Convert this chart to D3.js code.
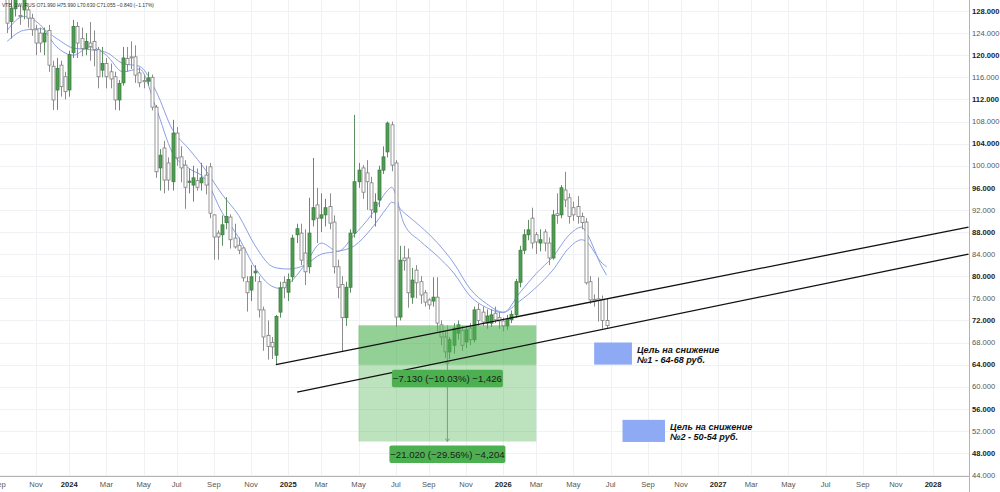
<!DOCTYPE html>
<html><head><meta charset="utf-8">
<script src="https://cdn.jsdelivr.net/npm/d3@7/dist/d3.min.js"></script>
<style>body{margin:0;background:#fff}svg{display:block}</style>
</head><body><svg id="c" width="1000" height="492"></svg>
<script>
// ---------- DATA ----------
const firstWeek = "2023-09-18"; // weekly candles, one per Monday
const open  = [130.5,126.1,128.4,127.2,128.2,128.2,126.7,124.6,124.0,122.4,124.5,118.0,113.7,118.2,116.1,113.7,120.5,125.2,123.0,121.2,122.2,122.5,121.0,117.3,118.5,117.0,116.1,111.9,115.0,119.4,119.7,119.7,116.8,115.4,115.3,116.0,110.6,99.6,103.2,100.5,97.1,105.9,101.6,100.1,97.0,96.5,97.3,96.9,98.3,99.8,91.1,87.8,87.5,89.7,90.7,86.9,85.6,85.1,79.0,77.5,80.6,79.0,73.9,69.3,68.0,65.7,73.5,78.9,77.1,79.9,87.5,87.8,84.2,81.7,90.2,92.9,90.5,91.1,92.6,89.8,81.7,78.5,72.5,78.0,87.8,97.1,99.6,98.7,96.9,91.6,93.8,99.2,102.5,107.4,100.5,72.6,83.3,83.3,76.2,81.1,79.0,77.0,75.7,75.5,76.2,71.2,69.0,66.3,67.5,69.7,70.2,68.1,70.6,68.5,74.0,73.5,71.5,71.5,73.3,72.5,71.9,71.0,72.1,73.0,78.9,84.7,87.5,90.5,87.5,86.0,88.0,86.0,83.3,91.3,91.1,95.6,94.2,92.4,92.6,90.8,89.8,79.0,75.8,75.9,75.8,71.99];
const high  = [131.5,130.5,132.0,129.0,131.0,128.8,127.5,125.5,125.0,125.0,125.5,119.0,119.5,119.0,117.0,120.8,126.4,126.0,125.0,124.0,126.0,124.5,121.5,121.5,119.5,118.5,117.0,115.5,121.5,121.5,122.5,121.8,117.8,116.5,117.0,116.5,111.0,103.0,104.5,101.5,108.3,107.0,103.5,101.0,99.5,100.0,99.5,100.5,100.0,100.5,91.2,88.3,91.0,94.3,91.2,89.5,87.0,85.2,80.0,82.0,82.0,80.0,74.5,72.0,69.0,73.0,79.0,80.0,80.5,87.5,89.5,89.5,88.5,94.2,101.4,96.0,95.0,94.0,95.0,91.0,83.0,80.0,79.0,88.5,109.2,100.5,100.1,101.0,98.0,95.0,100.0,103.5,108.0,108.0,101.0,85.5,85.5,85.0,81.5,82.0,80.0,77.5,76.0,79.8,79.8,72.0,70.0,69.0,71.5,72.0,71.0,71.0,71.5,74.5,75.0,74.5,74.0,74.0,74.5,73.5,72.5,73.0,73.8,79.5,85.5,88.5,90.2,92.4,88.0,88.5,88.5,87.0,92.0,95.0,96.5,98.9,95.0,93.5,94.5,91.5,90.5,80.0,76.7,79.8,76.5,75.99];
const low   = [124.0,123.0,127.0,125.5,126.5,125.0,123.5,120.0,120.5,120.0,117.0,110.1,110.1,112.5,112.0,112.5,119.5,119.5,119.8,120.0,119.0,118.0,114.0,116.0,114.0,114.0,110.1,110.0,114.5,117.0,117.5,115.0,114.2,114.0,114.5,110.0,97.8,95.5,95.0,95.5,95.5,100.0,97.0,92.2,95.0,93.5,95.5,95.5,94.8,90.5,83.0,83.0,85.5,88.5,85.0,85.0,84.0,79.0,73.6,75.5,79.0,72.5,66.5,64.9,65.0,64.0,72.5,76.0,75.5,79.0,86.0,82.0,78.4,80.5,89.0,86.0,88.0,89.0,88.5,80.5,76.0,66.3,71.0,77.0,87.0,96.0,94.0,92.0,90.5,89.0,92.5,98.5,101.5,99.0,70.8,72.0,81.0,74.3,75.0,76.0,75.0,74.5,74.0,74.5,70.0,67.5,65.2,65.0,66.0,68.5,66.5,67.0,67.5,68.0,71.0,71.0,70.5,70.8,71.5,70.5,70.0,70.3,71.5,72.5,78.0,84.0,86.5,85.0,84.0,84.5,84.5,82.0,83.0,89.5,90.5,92.5,89.5,90.0,89.5,88.5,78.5,75.0,74.5,71.8,70.5,70.63];
const close = [125.8,128.5,131.0,127.0,130.2,126.7,124.6,122.2,122.2,124.0,118.2,111.9,117.6,114.3,113.4,120.1,125.2,122.2,121.2,122.5,121.6,121.0,116.1,118.5,116.1,115.7,111.9,114.9,119.5,118.3,119.5,116.4,115.0,115.2,115.9,110.6,98.9,101.9,97.4,97.4,105.9,101.4,99.6,96.1,97.2,97.8,96.1,97.8,96.5,91.4,87.1,87.1,89.3,90.8,86.6,85.3,84.7,79.7,77.0,79.9,80.9,73.9,69.0,67.3,67.2,72.7,77.9,77.9,79.4,86.9,88.6,82.9,80.8,87.8,92.4,90.5,91.1,92.4,89.6,81.7,78.0,72.5,78.0,87.8,97.1,99.2,95.2,97.1,92.0,93.4,99.2,101.6,107.7,100.1,72.6,82.9,82.8,77.0,79.3,78.8,76.6,75.3,74.8,76.2,71.5,69.0,66.3,68.5,70.6,71.2,67.5,70.3,68.5,73.9,72.0,71.7,72.8,73.0,72.1,71.9,71.0,72.2,73.1,79.0,84.7,87.5,88.4,86.0,86.2,86.6,86.0,83.3,91.1,91.0,96.0,93.8,90.8,91.1,90.8,89.7,78.8,75.7,75.5,75.6,72.0,71.055];

// moving-average lines at these candle indices
const maIdx  = [0,4,8,12,16,20,24,28,32,36,40,44,48,52,56,60,64,66,68,72,76,80,84,88,92,93,96,100,104,108,112,116,120,124,128,132,136,139,140,144,145];
const maFast = [124.5,127.0,125.5,121.5,120.0,121.5,120.0,117.0,117.5,110.5,102.3,99.5,97.5,91.5,87.0,81.5,78.2,77.8,78.6,82.0,86.0,84.5,87.5,91.0,95.5,96.1,89.5,86.3,83.7,80.6,76.4,74.3,73.4,77.0,80.5,83.5,87.5,88.9,88.0,81.5,80.2];
const maSlow = [122.5,124.5,124.8,123.0,121.3,121.0,120.5,118.5,118.0,113.5,106.5,103.0,99.2,94.8,91.0,85.5,81.8,81.4,81.3,82.0,84.0,84.5,85.5,88.5,92.5,93.4,91.5,89.0,86.1,82.4,77.7,75.0,73.5,75.5,78.0,81.1,85.2,86.6,86.3,82.3,81.7];

const priceTicks = [44,48,52,56,60,64,68,72,76,80,84,88,92,96,100,104,108,112,116,120,124,128];
const monthNames = ["Jan","Feb","Mar","Apr","May","Jun","Jul","Aug","Sep","Oct","Nov","Dec"];

const trendLines = [
  {from:["2024-12-16",64.0], to:["2028-03-03",88.9]},
  {from:["2025-01-21",59.0], to:["2028-03-03",84.0]}
];
const measure = {start:"2025-05-05", end:"2026-03-02", top:71.1, levels:[63.97,50.08],
  labels:["\u22127.130 (\u221210.03%) \u22121,426","\u221221.020 (\u221229.56%) \u22124,204"]};
const targets = [
  {start:"2026-06-08", end:"2026-08-11", lo:64, hi:68, lines:["Цель на снижение","№1 - 64-68 руб."]},
  {start:"2026-07-26", end:"2026-10-06", lo:50, hi:54, lines:["Цель на снижение","№2 - 50-54 руб."]}
];
const header = "VTB, 1W, RUS  O71.990 H75.990 L70.630 C71.055 \u22120.840 (\u22121.17%)";

// ---------- CHART ----------
const svg = d3.select("#c");
const plotR = 969, plotB = 476;
const P = s => new Date(s + "T00:00:00Z");
const x = d3.scaleUtc().domain([P("2024-01-01"), P("2028-01-03")]).range([69.2, 933.1]);
const y = d3.scaleLinear().domain([44,128]).range([475.1, 11]);
const FONT = "'Liberation Sans', Arial, sans-serif";

const t0 = P(firstWeek);
const candles = close.map((c,i)=>({d:d3.utcMonday.offset(t0,i),o:open[i],h:high[i],l:low[i],c}));

svg.append("defs").append("clipPath").attr("id","plot")
  .append("rect").attr("x",0).attr("y",0).attr("width",plotR).attr("height",plotB);

// month ticks: first weekly bar of every other month
const monthStarts = d3.utcMonth.every(2).range(P("2023-09-01"), P("2028-04-01"));
const mticks = monthStarts.map(m=>({m, d:d3.utcMonday.ceil(m)})).filter(t=>x(t.d) < plotR-5);

const grid = svg.append("g").attr("clip-path","url(#plot)");
grid.selectAll(".hg").data(priceTicks).join("line")
  .attr("x1",0).attr("x2",plotR).attr("y1",d=>Math.round(y(d))+0.5).attr("y2",d=>Math.round(y(d))+0.5)
  .attr("stroke","#f0f1f4").attr("stroke-width",1);
grid.selectAll(".vg").data(mticks).join("line")
  .attr("y1",0).attr("y2",plotB).attr("x1",d=>Math.round(x(d.d))+0.5).attr("x2",d=>Math.round(x(d.d))+0.5)
  .attr("stroke","#f0f1f4").attr("stroke-width",1);

const plot = svg.append("g").attr("clip-path","url(#plot)");

// moving averages
const maLine = arr => d3.line().curve(d3.curveMonotoneX)
  .x((d,k)=>x(candles[maIdx[k]].d)).y(d=>y(d))(arr);
[maSlow, maFast].forEach(arr=>{
  plot.append("path").attr("d",maLine(arr)).attr("fill","none")
    .attr("stroke","#8b9fe3").attr("stroke-width",1);
});

// candles
const bw = 3;
const cg = plot.append("g");
cg.selectAll(".w").data(candles).join("line")
  .attr("x1",d=>Math.round(x(d.d))+0.5).attr("x2",d=>Math.round(x(d.d))+0.5)
  .attr("y1",d=>y(d.h)).attr("y2",d=>y(d.l))
  .attr("stroke",d=>d.c>=d.o?"#5f8f62":"#8c8c8c").attr("stroke-width",1);
cg.selectAll(".b").data(candles).join("rect")
  .attr("x",d=>Math.round(x(d.d))-1.5+0.5).attr("width",bw)
  .attr("y",d=>y(Math.max(d.o,d.c)))
  .attr("height",d=>Math.max(0.8, Math.abs(y(d.o)-y(d.c))))
  .attr("fill",d=>d.c>=d.o?"#4f9d53":"#ffffff")
  .attr("stroke",d=>d.c>=d.o?"#3d7f41":"#7d7d7d").attr("stroke-width",0.8);

// measurement (price range) boxes
const mx0 = x(P(measure.start)), mx1 = x(P(measure.end)), mcx = (mx0+mx1)/2;
measure.levels.forEach(lv=>{
  plot.append("rect").attr("x",mx0).attr("width",mx1-mx0)
    .attr("y",y(measure.top)).attr("height",y(lv)-y(measure.top))
    .attr("fill","rgba(76,175,80,0.37)");
});
plot.append("line").attr("x1",mcx).attr("x2",mcx).attr("y1",y(measure.top)).attr("y2",y(measure.levels[1]))
  .attr("stroke","#7a9e7c").attr("stroke-width",1);
measure.levels.forEach(lv=>{
  const yy=y(lv);
  plot.append("path").attr("d",`M${mcx-2},${yy-3}L${mcx},${yy}L${mcx+2},${yy-3}`)
    .attr("fill","none").attr("stroke","#7a9e7c").attr("stroke-width",1);
});

// trend lines
trendLines.forEach(t=>{
  plot.append("line").attr("x1",x(P(t.from[0]))).attr("y1",y(t.from[1]))
    .attr("x2",x(P(t.to[0]))).attr("y2",y(t.to[1]))
    .attr("stroke","#111").attr("stroke-width",1.3);
});

// target boxes with two-line captions
targets.forEach(t=>{
  const x0=x(P(t.start)), x1=x(P(t.end));
  plot.append("rect").attr("x",x0).attr("width",x1-x0)
    .attr("y",y(t.hi)).attr("height",y(t.lo)-y(t.hi)).attr("fill","#8eaaf5");
  t.lines.forEach((s,k)=>{
    plot.append("text").attr("x",x1+5).attr("y",y(t.hi)+10+k*10.6)
      .attr("font-family",FONT).attr("font-size",9.1)
      .attr("font-weight","bold").attr("font-style","italic").attr("fill","#111").text(s);
  });
});

// measurement labels
measure.levels.forEach((lv,k)=>{
  const w = k===0?111:116, yy = y(lv)+ (k===0?5:4);
  plot.append("rect").attr("x",mcx-w/2).attr("y",yy).attr("width",w).attr("height",17.5)
    .attr("rx",2).attr("fill","#4caf50");
  plot.append("text").attr("x",mcx).attr("y",yy+12.3).attr("text-anchor","middle")
    .attr("font-family",FONT).attr("font-size",9.6).attr("fill","#1c1c1c").text(measure.labels[k]);
});

// header
svg.append("text").attr("x",2).attr("y",7).attr("font-family",FONT).attr("font-size",6)
  .attr("textLength",152).attr("lengthAdjust","spacingAndGlyphs")
  .attr("fill","#333").text(header);

// axes
svg.append("line").attr("x1",plotR+0.5).attr("x2",plotR+0.5).attr("y1",0).attr("y2",492)
  .attr("stroke","#b4b4b4");
svg.append("line").attr("x1",0).attr("x2",plotR).attr("y1",plotB+0.5).attr("y2",plotB+0.5)
  .attr("stroke","#b4b4b4");
svg.selectAll(".pl").data(priceTicks).join("text")
  .attr("x",972).attr("y",d=>y(d)+2.7).attr("font-family",FONT).attr("font-size",7.6)
  .attr("font-weight",d=>d%8===0?"bold":"normal")
  .attr("fill",d=>d%8===0?"#222":"#555").text(d=>d3.format(".3f")(d));
svg.selectAll(".ml").data(mticks).join("text")
  .attr("x",d=>x(d.d)).attr("y",487).attr("text-anchor","middle")
  .attr("font-family",FONT).attr("font-size",7.6)
  .attr("font-weight",d=>d.m.getUTCMonth()===0?"bold":"normal")
  .attr("fill",d=>d.m.getUTCMonth()===0?"#222":"#555")
  .text(d=>d.m.getUTCMonth()===0?d.m.getUTCFullYear():monthNames[d.m.getUTCMonth()]);
</script></body></html>
